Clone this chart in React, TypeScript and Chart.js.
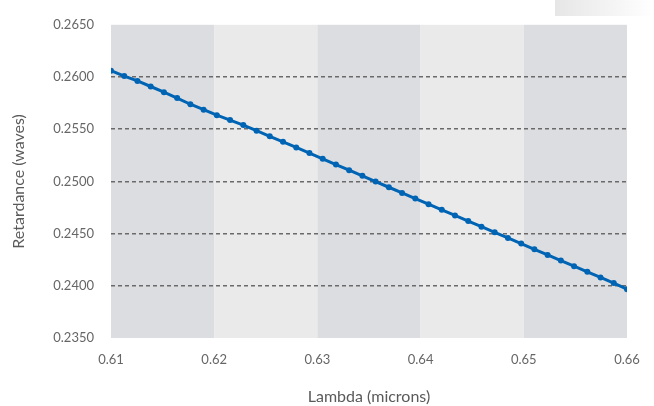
import React, { useEffect, useRef } from "react";
import { Chart, registerables } from "chart.js";

Chart.register(...registerables);

const lambdaValues = [
  0.61, 0.611282, 0.612564, 0.613846, 0.615128, 0.61641, 0.617692, 0.618974,
  0.620256, 0.621538, 0.622821, 0.624103, 0.625385, 0.626667, 0.627949,
  0.629231, 0.630513, 0.631795, 0.633077, 0.634359, 0.635641, 0.636923,
  0.638205, 0.639487, 0.640769, 0.642051, 0.643333, 0.644615, 0.645897,
  0.647179, 0.648462, 0.649744, 0.651026, 0.652308, 0.65359, 0.654872,
  0.656154, 0.657436, 0.658718, 0.66,
];

const retardanceValues = [
  0.26061, 0.26009, 0.25962, 0.25909, 0.25855, 0.25798, 0.25739, 0.25687,
  0.25634, 0.25587, 0.2554, 0.25486, 0.25432, 0.25379, 0.25325, 0.25271,
  0.25216, 0.25161, 0.25107, 0.25053, 0.24998, 0.24944, 0.2489, 0.24836,
  0.24782, 0.24728, 0.24674, 0.2462, 0.24566, 0.24512, 0.24458, 0.24404,
  0.2435, 0.24296, 0.24242, 0.24188, 0.24134, 0.2408, 0.24026, 0.23968,
];

const bandEdges = [0.61, 0.62, 0.63, 0.64, 0.65, 0.66];
const bandColors = ["#dcdde0", "#eaeaea", "#dcdde0", "#eaeaea", "#dcdde0"];

const bandsPlugin = {
  id: "bands",
  beforeDraw(chart: any) {
    const { ctx, chartArea, scales } = chart;
    const x = scales.x;
    ctx.save();
    for (let i = 0; i < bandColors.length; i++) {
      const x0 = x.getPixelForValue(bandEdges[i]);
      const x1 = x.getPixelForValue(bandEdges[i + 1]);
      ctx.fillStyle = bandColors[i];
      ctx.fillRect(x0, chartArea.top, x1 - x0, chartArea.bottom - chartArea.top);
    }
    ctx.restore();
  },
};

export default function App() {
  const canvasRef = useRef<HTMLCanvasElement | null>(null);

  useEffect(() => {
    if (!canvasRef.current) return;
    const font = "Lato, 'Noto Sans', sans-serif";
    const chart = new Chart(canvasRef.current, {
      type: "line",
      data: {
        datasets: [
          {
            data: lambdaValues.map((l, i) => ({ x: l, y: retardanceValues[i] })),
            borderColor: "#0064b4",
            backgroundColor: "#0064b4",
            borderWidth: 3,
            pointRadius: 3,
            pointBorderWidth: 0,
            pointBackgroundColor: "#0064b4",
            tension: 0,
          },
        ],
      },
      options: {
        animation: false,
        responsive: false,
        maintainAspectRatio: false,
        layout: { padding: { top: 21, right: 27, left: 0, bottom: 0 } },
        plugins: { legend: { display: false }, tooltip: { enabled: false } },
        scales: {
          x: {
            type: "linear",
            min: 0.61,
            max: 0.66,
            afterFit(scale: any) {
              scale.height = 68;
            },
            ticks: {
              stepSize: 0.01,
              padding: 14,
              color: "#666",
              font: { family: font, size: 13 },
              callback: (v: any) => Number(v).toFixed(2),
            },
            grid: { display: false, drawTicks: false },
            border: { display: false },
            title: {
              display: true,
              text: "Lambda (microns)",
              color: "#5a5a5a",
              font: { family: font, size: 16 },
              padding: { top: 0, bottom: 0 },
            },
          },
          y: {
            min: 0.235,
            max: 0.265,
            afterFit(scale: any) {
              scale.width = 111;
            },
            ticks: {
              stepSize: 0.005,
              padding: 17,
              color: "#666",
              font: { family: font, size: 13 },
              callback: (v: any) => Number(v).toFixed(4),
            },
            grid: {
              drawTicks: false,
              lineWidth: 1.5,
              color: (c: any) => {
                const v = c.tick ? c.tick.value : 0;
                if (Math.abs(v - 0.235) < 1e-6 || Math.abs(v - 0.265) < 1e-6) return "rgba(0,0,0,0)";
                return "#6a6a6a";
              },
            },
            border: { display: false, dash: [4, 3] },
            title: {
              display: true,
              text: "Retardance (waves)",
              color: "#5a5a5a",
              font: { family: font, size: 16 },
              padding: { top: 9, bottom: 0 },
            },
          },
        },
      },
      plugins: [bandsPlugin],
    });
    return () => chart.destroy();
  }, []);

  return (
    <div style={{ position: "absolute", left: 0, top: 0, width: 654, height: 406, background: "#fff" }}>
      <canvas ref={canvasRef} width={654} height={406} style={{ display: "block" }} />
      <div
        style={{
          position: "absolute",
          left: 555,
          top: 0,
          width: 99,
          height: 16,
          background: "linear-gradient(to right, #e6e6e6, #ffffff)",
        }}
      />
    </div>
  );
}
